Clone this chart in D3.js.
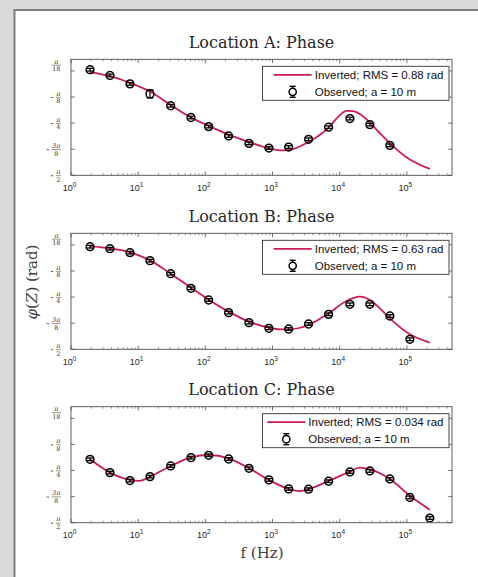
<!DOCTYPE html>
<html><head><meta charset="utf-8">
<script src="https://cdn.jsdelivr.net/npm/d3@7"></script>
<style>body{margin:0;background:#d9d9d9;overflow:hidden} svg{display:block}</style>
</head><body>
<svg id="c" width="478" height="577"></svg>
<script>
// ---------------- data ----------------
const obsFreq = [1.92, 3.80, 7.55, 15.0, 30.5, 61.1, 112, 222, 446, 884, 1740, 3440, 6840, 14190, 28120, 55850, 110900, 219800];

const obsA = [0.018, -0.068, -0.195, -0.346, -0.524, -0.701, -0.838, -0.979, -1.090, -1.161, -1.146, -1.029, -0.847, -0.717, -0.808, -1.120];
const errA = [0.02, 0.02, 0.02, 0.06, 0.02, 0.02, 0.02, 0.02, 0.02, 0.02, 0.02, 0.02, 0.02, 0.02, 0.02, 0.02];
const obsB = [-0.027, -0.057, -0.117, -0.237, -0.433, -0.653, -0.829, -1.019, -1.170, -1.255, -1.265, -1.190, -1.045, -0.894, -0.894, -1.070, -1.420];
const errB = [0.02, 0.02, 0.02, 0.02, 0.02, 0.02, 0.02, 0.02, 0.02, 0.02, 0.02, 0.02, 0.02, 0.02, 0.02, 0.02, 0.02];
const obsC = [-0.617, -0.817, -0.937, -0.877, -0.717, -0.592, -0.557, -0.612, -0.752, -0.927, -1.062, -1.067, -0.947, -0.807, -0.792, -0.912, -1.191, -1.501];
const errC = [0.02, 0.02, 0.02, 0.02, 0.02, 0.02, 0.02, 0.02, 0.02, 0.02, 0.02, 0.02, 0.02, 0.02, 0.02, 0.02, 0.02, 0.02];

const curveFreqA = [1.92, 3.80, 7.55, 15.0, 30.5, 61.1, 112, 222, 446, 884, 1290, 1740, 3440, 6840, 10070, 12650, 15920, 19990, 28120, 39630, 55850, 110900, 219800];
const curveA = [-0.018, -0.079, -0.180, -0.311, -0.513, -0.701, -0.827, -0.959, -1.070, -1.166, -1.196, -1.191, -1.070, -0.853, -0.665, -0.600, -0.605, -0.650, -0.777, -0.938, -1.090, -1.333, -1.475];
const curveFreqB = [1.92, 3.80, 7.55, 15.0, 30.5, 61.1, 112, 222, 446, 884, 1290, 1740, 3440, 6840, 12650, 19990, 28120, 39630, 55850, 110900, 219800];
const curveB = [-0.017, -0.052, -0.112, -0.233, -0.433, -0.643, -0.824, -1.004, -1.155, -1.245, -1.270, -1.270, -1.205, -1.029, -0.844, -0.779, -0.829, -0.954, -1.105, -1.345, -1.470];
const curveFreqC = [1.92, 3.80, 7.55, 10.6, 15.0, 30.5, 61.1, 112, 222, 446, 884, 1740, 2450, 3440, 6840, 14190, 19990, 28120, 55850, 110900, 219800];
const curveC = [-0.617, -0.817, -0.927, -0.940, -0.877, -0.717, -0.587, -0.552, -0.602, -0.752, -0.927, -1.062, -1.096, -1.067, -0.942, -0.802, -0.742, -0.767, -0.912, -1.166, -1.376];

const titles = ["Location A: Phase", "Location B: Phase", "Location C: Phase"];
const rmsLabels = ["Inverted; RMS = 0.88 rad", "Inverted; RMS = 0.63 rad", "Inverted; RMS = 0.034 rad"];
const obsLabel = "Observed; a = 10 m";

const yTicks = [-Math.PI/2, -3*Math.PI/8, -Math.PI/4, -Math.PI/8, 0];
const yTickLabels = [
  {neg:true, num:"π", den:"2"},
  {neg:true, num:"3π", den:"8"},
  {neg:true, num:"π", den:"4"},
  {neg:true, num:"π", den:"8"},
  {neg:false, num:"π", den:"18"}
];
const xTicks = [1, 10, 100, 1000, 10000, 100000];
const xTickExp = ["0", "1", "2", "3", "4", "5"];

// ---------------- layout ----------------
const svg = d3.select("#c");
const W = 478, H = 577;
const left = 71, right = 452, plotH = 116;
const tops = [59.3, 233.3, 406.7];
const lineColor = "#cc1a5e";
const axisColor = "#4d4d4d";
const textColor = "#262626";

svg.append("rect").attr("x",0).attr("y",0).attr("width",W).attr("height",H).attr("fill","#d9d9d9");
svg.append("rect").attr("x",14.5).attr("y",10).attr("width",480).attr("height",590)
  .attr("fill","#fff").attr("stroke","#7f7f7f").attr("stroke-width",2);

const x = d3.scaleLog().domain([1, 4.7e5]).range([left, right]);

const panels = [
  {obs: obsA, err: errA, cf: curveFreqA, cv: curveA},
  {obs: obsB, err: errB, cf: curveFreqB, cv: curveB},
  {obs: obsC, err: errC, cf: curveFreqC, cv: curveC}
];

panels.forEach((p, i) => {
  const top = tops[i], bottom = top + plotH;
  const y = d3.scaleLinear().domain([-Math.PI/2, Math.PI/18]).range([bottom, top]);
  const g = svg.append("g");

  // frame background
  g.append("rect").attr("x",left).attr("y",top).attr("width",right-left).attr("height",plotH).attr("fill","#fff");

  // title
  g.append("text").attr("x",(left+right)/2).attr("y",top-11.5).attr("text-anchor","middle")
    .attr("font-family","DejaVu Serif").attr("font-size",16).attr("fill",textColor).text(titles[i]);

  // minor x ticks
  const minor = [];
  for (let d = 0; d <= 5; d++) for (let k = 2; k <= 9; k++) { const v = k*Math.pow(10,d); if (v < 4.7e5) minor.push(v); }
  minor.forEach(v => {
    const xx = x(v);
    g.append("line").attr("x1",xx).attr("x2",xx).attr("y1",bottom).attr("y2",bottom-2).attr("stroke",axisColor).attr("stroke-width",0.6);
    g.append("line").attr("x1",xx).attr("x2",xx).attr("y1",top).attr("y2",top+2).attr("stroke",axisColor).attr("stroke-width",0.6);
  });
  // major x ticks + labels
  xTicks.forEach((v, j) => {
    const xx = x(v);
    g.append("line").attr("x1",xx).attr("x2",xx).attr("y1",bottom).attr("y2",bottom-3.8).attr("stroke",axisColor).attr("stroke-width",0.8);
    g.append("line").attr("x1",xx).attr("x2",xx).attr("y1",top).attr("y2",top+3.8).attr("stroke",axisColor).attr("stroke-width",0.8);
    const t = g.append("text").attr("x",xx-1.5).attr("y",bottom+15.5).attr("text-anchor","middle")
      .attr("font-family","Liberation Sans, Arial").attr("font-size",9).attr("fill",textColor);
    t.append("tspan").text("10");
    t.append("tspan").attr("dy",-4).attr("font-size",6.5).text(xTickExp[j]);
  });
  // y ticks + labels
  yTicks.forEach((v, j) => {
    const yy = y(v);
    g.append("line").attr("x1",left).attr("x2",left+3.8).attr("y1",yy).attr("y2",yy).attr("stroke",axisColor).attr("stroke-width",0.8);
    g.append("line").attr("x1",right).attr("x2",right-3.8).attr("y1",yy).attr("y2",yy).attr("stroke",axisColor).attr("stroke-width",0.8);
    const lab = yTickLabels[j];
    const y0 = (j === yTicks.length-1) ? yy - 6 : yy;
    const num = g.append("text").attr("y",y0-1.3).attr("text-anchor","middle")
      .attr("font-family","DejaVu Serif").attr("font-size",6.5).attr("font-style","italic").attr("fill","#333").text(lab.num);
    const den = g.append("text").attr("y",y0+6.3).attr("text-anchor","middle")
      .attr("font-family","DejaVu Serif").attr("font-size",6.5).attr("fill","#333").text(lab.den);
    const fw = Math.max(num.node().getComputedTextLength(), den.node().getComputedTextLength()) + 1;
    const cx = left - 10 - fw/2;
    num.attr("x",cx); den.attr("x",cx);
    g.append("line").attr("x1",cx-fw/2).attr("x2",cx+fw/2).attr("y1",y0+0.3).attr("y2",y0+0.3).attr("stroke","#333").attr("stroke-width",0.5);
    if (lab.neg) {
      g.append("line").attr("x1",cx-fw/2-5).attr("x2",cx-fw/2-2.5).attr("y1",y0+0.5).attr("y2",y0+0.5).attr("stroke","#333").attr("stroke-width",0.8);
    }
  });

  // inverted curve
  const line = d3.line().x(d => x(d[0])).y(d => y(d[1])).curve(d3.curveMonotoneX);
  g.append("path").attr("d", line(p.cf.map((f,k)=>[f, p.cv[k]])))
    .attr("fill","none").attr("stroke",lineColor).attr("stroke-width",1.8);

  // observed points with error bars
  p.obs.forEach((v, k) => {
    const xx = x(obsFreq[k]);
    const e = p.err[k];
    const y1 = y(v + e), y2 = y(v - e);
    g.append("line").attr("x1",xx).attr("x2",xx).attr("y1",y1).attr("y2",y2).attr("stroke","#000").attr("stroke-width",1.2);
    [y1, y2].forEach(yc => g.append("line").attr("x1",xx-3.5).attr("x2",xx+3.5).attr("y1",yc).attr("y2",yc).attr("stroke","#000").attr("stroke-width",1.3));
    g.append("circle").attr("cx",xx).attr("cy",y(v)).attr("r",3.9).attr("fill","none").attr("stroke","#000").attr("stroke-width",1.5);
  });

  // frame
  g.append("rect").attr("x",left).attr("y",top).attr("width",right-left).attr("height",plotH)
    .attr("fill","none").attr("stroke",axisColor).attr("stroke-width",0.9);

  // legend
  const lx0 = 262.5, lx1 = 449, ly0 = top + 7, lh = 34;
  const lg = svg.append("g");
  lg.append("rect").attr("x",lx0).attr("y",ly0).attr("width",lx1-lx0).attr("height",lh)
    .attr("fill","#fff").attr("stroke","#333").attr("stroke-width",0.9);
  const r1 = ly0 + 8.5, r2 = ly0 + 25.5;
  const t1 = lg.append("text").attr("y",r1+4).attr("font-family","Liberation Sans, Arial").attr("font-size",11.5).attr("fill","#111").text(rmsLabels[i]);
  const t2 = lg.append("text").attr("y",r2+4).attr("font-family","Liberation Sans, Arial").attr("font-size",11.5).attr("fill","#111").text(obsLabel);
  const tw = Math.max(t1.node().getComputedTextLength(), t2.node().getComputedTextLength());
  const tx = lx1 - 5.5 - tw;
  t1.attr("x",tx); t2.attr("x",tx);
  const sx1 = Math.max(lx0 + 2, tx - 41), sx2 = tx - 3;
  lg.append("line").attr("x1",sx1).attr("x2",sx2).attr("y1",r1).attr("y2",r1).attr("stroke",lineColor).attr("stroke-width",1.8);
  const mx = (sx1 + sx2)/2;
  lg.append("line").attr("x1",mx).attr("x2",mx).attr("y1",r2-5.5).attr("y2",r2+5.5).attr("stroke","#000").attr("stroke-width",1.2);
  [r2-5.5, r2+5.5].forEach(yc => lg.append("line").attr("x1",mx-3).attr("x2",mx+3).attr("y1",yc).attr("y2",yc).attr("stroke","#000").attr("stroke-width",1.4));
  lg.append("circle").attr("cx",mx).attr("cy",r2).attr("r",3.6).attr("fill","#fff").attr("stroke","#000").attr("stroke-width",1.5);
});

// axis labels
const yl = svg.append("text").attr("transform","translate(37,282) rotate(-90)").attr("text-anchor","middle")
  .attr("font-family","DejaVu Serif").attr("font-size",15).attr("fill","#404040");
yl.append("tspan").attr("font-style","italic").text("φ");
yl.append("tspan").text("(");
yl.append("tspan").attr("font-style","italic").text("Z");
yl.append("tspan").text(")  (rad)");

svg.append("text").attr("x",262).attr("y",558).attr("text-anchor","middle")
  .attr("font-family","DejaVu Serif").attr("font-size",15).attr("fill","#404040").text("f (Hz)");
</script>
</body></html>
